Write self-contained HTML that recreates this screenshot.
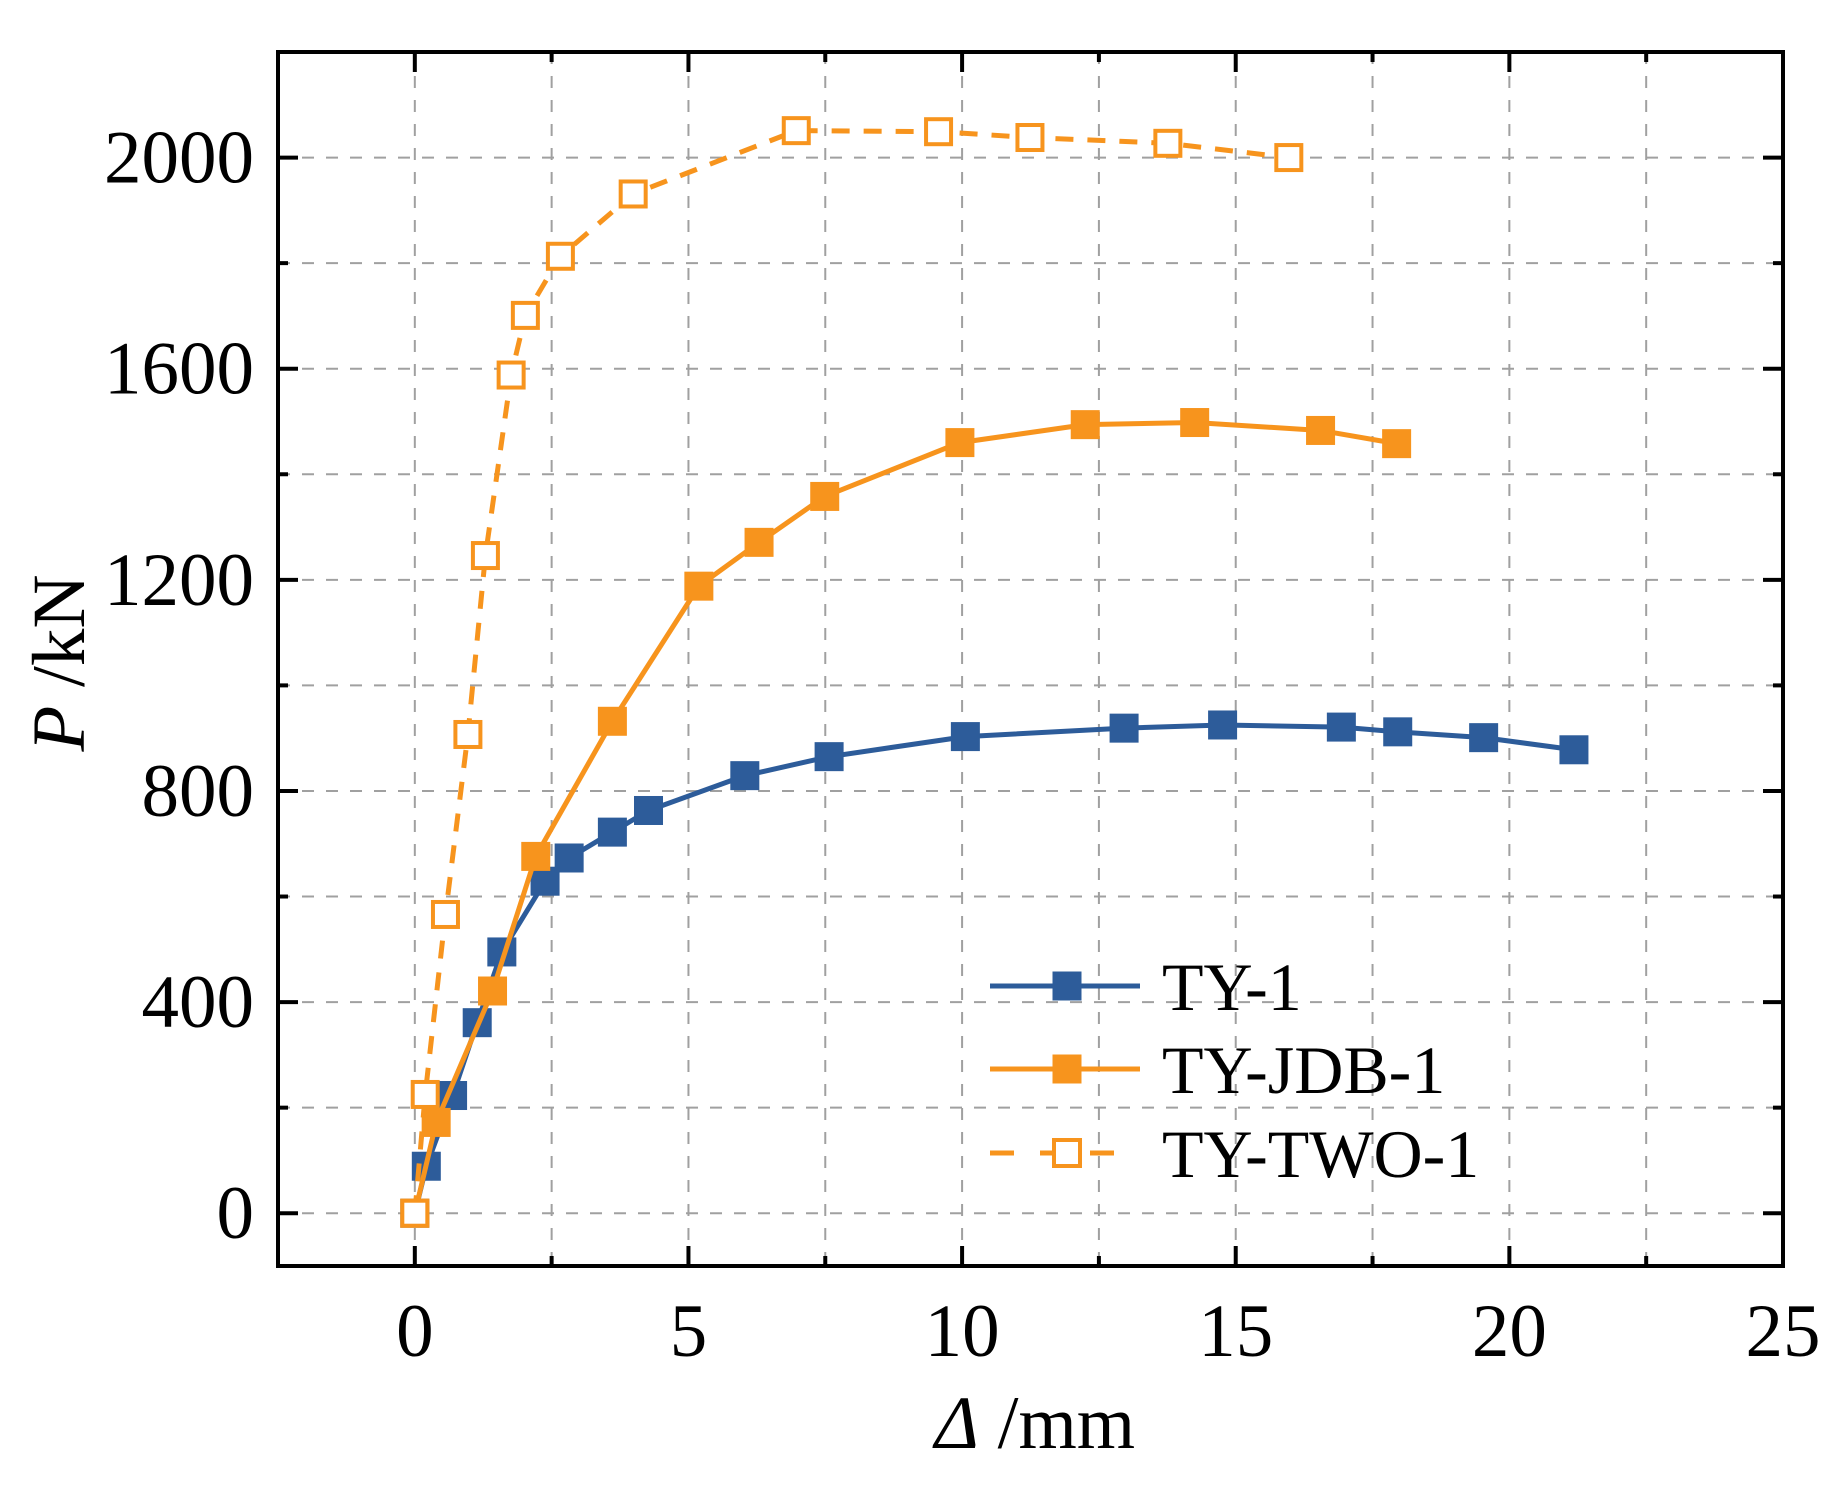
<!DOCTYPE html>
<html><head><meta charset="utf-8"><style>
html,body{margin:0;padding:0;background:#fff}
svg{display:block;font-family:"Liberation Serif","Times New Roman",serif}
</style></head><body>
<svg id="chart" width="1846" height="1493" viewBox="0 0 1846 1493">
<g id="grid"></g>
<g id="series"></g>
<rect x="278" y="52" width="1505" height="1214" fill="none" stroke="#000" stroke-width="4"/>
<g id="ticks"></g>
<text x="1035" y="1448" font-size="75" text-anchor="middle"><tspan font-style="italic">Δ</tspan> /mm</text>
<text transform="translate(84,663) rotate(-90)" font-size="75" text-anchor="middle"><tspan font-style="italic">P</tspan> /kN</text>
<g id="legend"></g>
</svg>
<script>
const xTicks=[0,5,10,15,20,25];
const yTicks=[0,400,800,1200,1600,2000];
const ty1X=[0,0.21,0.69,1.14,1.59,2.38,2.82,3.61,4.27,6.03,7.57,10.06,12.96,14.76,16.93,17.96,19.53,21.18];
const ty1P=[0,89,223,361,495,629,673,722,763,829,865,903,919,925,921,912,901,878];
const jdbX=[0,0.39,1.42,2.21,3.61,5.19,6.29,7.49,9.96,12.25,14.25,16.55,17.94];
const jdbP=[0,172,421,676,932,1188,1271,1358,1460,1494,1498,1483,1458];
const twoX=[0,0.19,0.56,0.97,1.29,1.76,2.02,2.66,3.99,6.97,9.57,11.24,13.76,15.97];
const twoP=[0,225,566,907,1246,1588,1701,1813,1931,2051,2049,2038,2027,2000];
const seriesNames=["TY-1","TY-JDB-1","TY-TWO-1"];

const NS="http://www.w3.org/2000/svg";
const L=278,R=1783,T=52,B=1266;
const xMin=-2.5,xMax=25,yMin=-100,yMax=2200;
const sx=v=>L+(v-xMin)/(xMax-xMin)*(R-L);
const sy=v=>B-(v-yMin)/(yMax-yMin)*(B-T);
function mk(tag,attrs,parent){const e=document.createElementNS(NS,tag);for(const k in attrs)e.setAttribute(k,attrs[k]);parent.appendChild(e);return e;}
const grid=document.getElementById('grid'),ticks=document.getElementById('ticks'),ser=document.getElementById('series'),leg=document.getElementById('legend');

for(let v=-2.5;v<=25.01;v+=2.5){
  const x=sx(v);
  if(v>-2.5&&v<25){
    const g=mk('line',{x1:x,x2:x,y1:T,y2:B,stroke:'#a0a0a0','stroke-width':2,'stroke-dasharray':'12 12'},grid);
    
    
  }
  const major=Math.abs(v%5)<0.01;
  const len=major?20:10;
  const t1=mk('line',{x1:x,x2:x,y1:B,y2:B-len,stroke:'#000','stroke-width':4},ticks);
  
  
  const t2=mk('line',{x1:x,x2:x,y1:T,y2:T+len,stroke:'#000','stroke-width':4},ticks);
  
  
}
xTicks.forEach(v=>{
  const t=mk('text',{x:sx(v),y:1356,'font-size':75,'text-anchor':'middle'},ticks);
  t.textContent=v;
  
  
});
for(let v=0;v<=2200;v+=200){
  const y=sy(v);
  if(v<2200){
    const g=mk('line',{x1:L,x2:R,y1:y,y2:y,stroke:'#a0a0a0','stroke-width':2,'stroke-dasharray':'12 12'},grid);
    
    
  }
  const major=v%400===0;
  const len=major?20:10;
  const t1=mk('line',{x1:L,x2:L+len,y1:y,y2:y,stroke:'#000','stroke-width':4},ticks);
  
  
  const t2=mk('line',{x1:R,x2:R-len,y1:y,y2:y,stroke:'#000','stroke-width':4},ticks);
  
  
}
yTicks.forEach(v=>{
  const t=mk('text',{x:254,y:sy(v)+25,'font-size':75,'text-anchor':'end'},ticks);
  t.textContent=v;
  
  
});

const styles=[
  {color:'#2d5c9a',fill:'#2d5c9a',dash:null},
  {color:'#f7941d',fill:'#f7941d',dash:null},
  {color:'#f7941d',fill:'#fff',dash:'18 14'}
];
const data=[[ty1X,ty1P],[jdbX,jdbP],[twoX,twoP]];
data.forEach((d,i)=>{
  const st=styles[i];
  const pts=d[0].map((x,j)=>sx(x)+','+sy(d[1][j])).join(' ');
  const pl=mk('polyline',{points:pts,fill:'none',stroke:st.color,'stroke-width':5},ser);
  if(st.dash)pl.setAttribute('stroke-dasharray',st.dash);
  
  
  d[0].forEach((x,j)=>{
    const s=st.fill==='#fff'?25:29;
    const r=mk('rect',{x:sx(x)-s/2,y:sy(d[1][j])-s/2,width:s,height:s,fill:st.fill,stroke:st.color,'stroke-width':st.fill==='#fff'?4:0},ser);
    
    
  });
});

const legY=[986,1069,1153];
seriesNames.forEach((n,i)=>{
  const st=styles[i],y=legY[i];
  const ln=mk('line',{x1:990,x2:1140,y1:y,y2:y,stroke:st.color,'stroke-width':5},leg);
  if(st.dash)ln.setAttribute('stroke-dasharray','24 26');
  
  
  const s=st.fill==='#fff'?26:29;
  const r=mk('rect',{x:1067-s/2,y:y-s/2,width:s,height:s,fill:st.fill,stroke:st.color,'stroke-width':st.fill==='#fff'?4:0},leg);
  
  
  const t=mk('text',{x:1162,y:y+24,'font-size':68},leg);
  t.textContent=n;
  
  
});
</script>
</body></html>
